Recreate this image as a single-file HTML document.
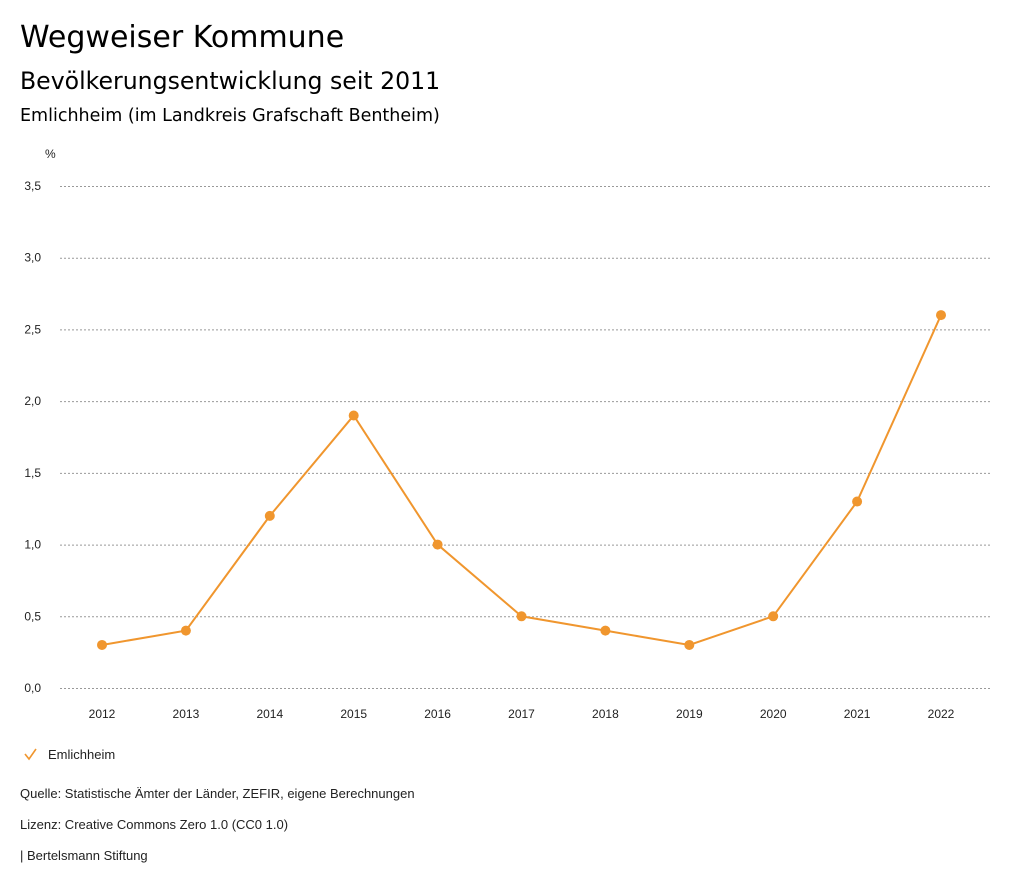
<!DOCTYPE html>
<html><head><meta charset="utf-8">
<style>
body{margin:0;background:#fff;font-family:"Liberation Sans",sans-serif;color:#000;}
.wrap{position:relative;width:1024px;height:888px;overflow:hidden;}
.t1{position:absolute;left:20px;top:20px;font-size:30px;font-family:"DejaVu Sans",sans-serif;}
.t2{position:absolute;left:20px;top:67px;font-size:23.6px;font-family:"DejaVu Sans",sans-serif;}
.t3{position:absolute;left:20px;top:106px;font-size:17.5px;font-family:"DejaVu Sans",sans-serif;}
.foot{position:absolute;left:20px;font-size:13px;color:#222;}
svg{position:absolute;left:0;top:0;}
</style></head><body>
<div class="wrap">
<div class="t1">Wegweiser Kommune</div>
<div class="t2">Bevölkerungsentwicklung seit 2011</div>
<div class="t3">Emlichheim (im Landkreis Grafschaft Bentheim)</div>
<svg id="chart" width="1024" height="888"></svg>
<div class="foot" style="top:786px">Quelle: Statistische Ämter der Länder, ZEFIR, eigene Berechnungen</div>
<div class="foot" style="top:817px">Lizenz: Creative Commons Zero 1.0 (CC0 1.0)</div>
<div class="foot" style="top:848px">| Bertelsmann Stiftung</div>
</div>
<script>
const years=["2012","2013","2014","2015","2016","2017","2018","2019","2020","2021","2022"];
const values=[0.3,0.4,1.2,1.9,1.0,0.5,0.4,0.3,0.5,1.3,2.6];
const yTicks=[0,0.5,1,1.5,2,2.5,3,3.5];
const yTickLabels=["0,0","0,5","1,0","1,5","2,0","2,5","3,0","3,5"];
const color="#f0962e";
const svg=document.getElementById('chart');
const NS="http://www.w3.org/2000/svg";
function y(v){return 688-v*(502/3.5);}
function x(i){return 102+i*(839/(years.length-1));}
function mk(t,a){const e=document.createElementNS(NS,t);for(const k in a)e.setAttribute(k,a[k]);svg.appendChild(e);return e;}
let t=mk('text',{x:45,y:158,'font-size':12,fill:'#222'});t.textContent='%';


yTicks.forEach((v,i)=>{
 const l=mk('line',{x1:60,x2:990,y1:y(v)+0.5,y2:y(v)+0.5,stroke:'#999','stroke-dasharray':'2,2','stroke-width':1});
 
 
 const tx=mk('text',{x:41,y:y(v)+4,'font-size':12,fill:'#222','text-anchor':'end'});tx.textContent=yTickLabels[i];
 
 
});
years.forEach((yr,i)=>{
 const tx=mk('text',{x:x(i),y:718,'font-size':12,fill:'#222','text-anchor':'middle'});tx.textContent=yr;
 
 
});
const pl=mk('polyline',{points:values.map((v,i)=>x(i)+','+y(v)).join(' '),fill:'none',stroke:color,'stroke-width':2});


values.forEach((v,i)=>{
 const c=mk('circle',{cx:x(i),cy:y(v),r:5,fill:color});
 
 
});
const chk=mk('polyline',{points:'25,754 29,759 36,749',fill:'none',stroke:color,'stroke-width':1.6});


const lt=mk('text',{x:48,y:759,'font-size':13,fill:'#222'});lt.textContent='Emlichheim';


</script>
</body></html>
